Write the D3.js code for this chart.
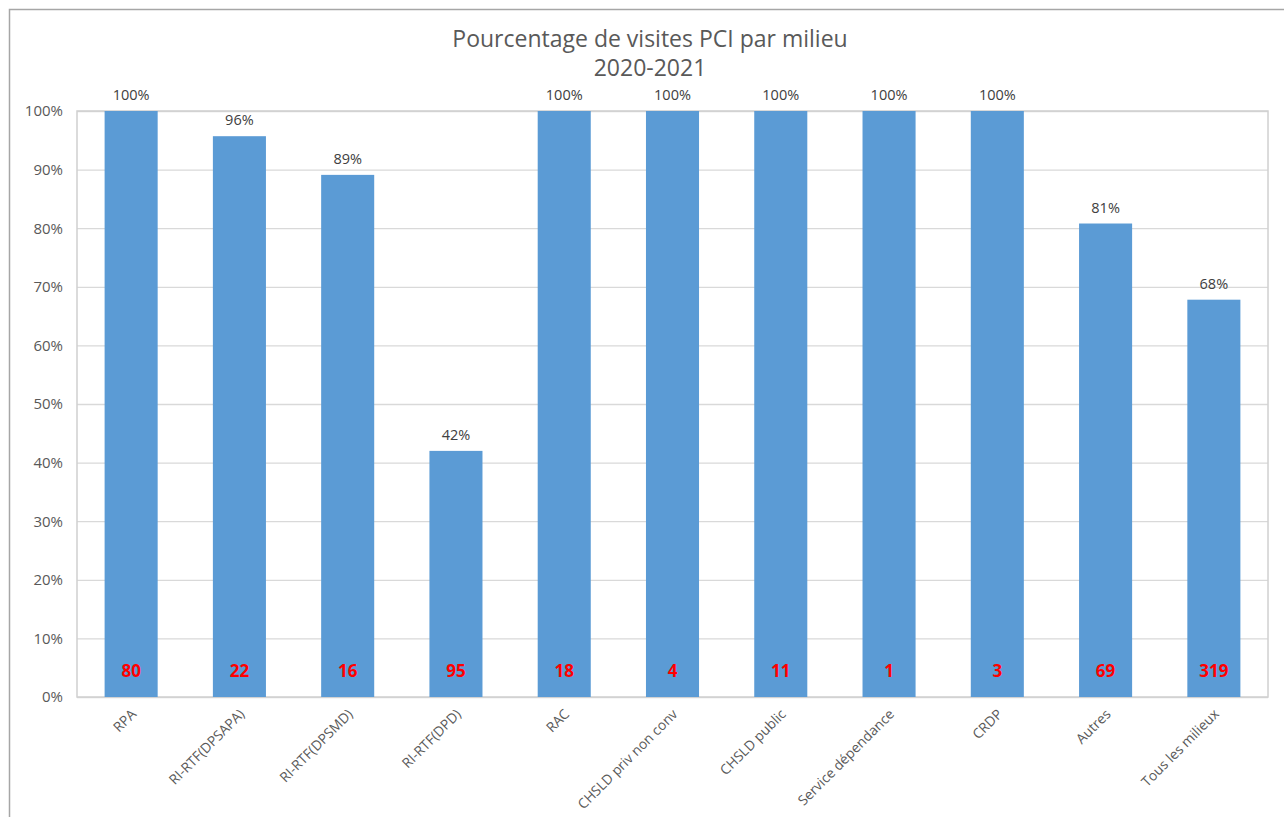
<!DOCTYPE html>
<html>
<head>
<meta charset="utf-8">
<script src="https://cdn.jsdelivr.net/npm/d3@7"></script>
<style>
  body { margin: 0; background: #fff; }
  text { font-family: "Open Sans", "Noto Sans", sans-serif; }
</style>
</head>
<body>
<div class="chart"></div>
<script>
const categories = ["RPA", "RI-RTF(DPSAPA)", "RI-RTF(DPSMD)", "RI-RTF(DPD)", "RAC",
    "CHSLD priv non conv", "CHSLD public", "Service dépendance", "CRDP", "Autres", "Tous les milieux"];
const percentages = [1.00, 0.957, 0.891, 0.42, 1.00, 1.00, 1.00, 1.00, 1.00, 0.808, 0.678];
const counts = [80, 22, 16, 95, 18, 4, 11, 1, 3, 69, 319];
const yTicks = [0, 0.1, 0.2, 0.3, 0.4, 0.5, 0.6, 0.7, 0.8, 0.9, 1.0];

function main(){
    const width = 1284;
    const height = 817;
    const margin = {top: 111, right: 16, bottom: 120, left: 77};

    const svg = d3.select('.chart')
        .append('svg')
        .attr('width', width)
        .attr('height', height);

    // outer frame of the chart
    svg.append("path")
        .attr("d", "M9.5," + height + " V9.5 H" + width)
        .attr("fill", "none")
        .attr("stroke", "#a6a6a6")
        .attr("stroke-width", 1.5);

    const x = d3.scaleBand()
        .domain(categories)
        .range([margin.left, width - margin.right])
        .paddingInner(0.51)
        .paddingOuter(0.255);

    const y = d3.scaleLinear()
        .domain([0, 1])
        .range([height - margin.bottom, margin.top]);

    // gridlines
    svg.append("g")
        .attr("transform", "translate(" + margin.left + ",0)")
        .call(d3.axisLeft(y).tickValues(yTicks).tickSize(-(width - margin.left - margin.right)).tickFormat(d3.format(".0%")))
        .call(g => g.select(".domain").remove())
        .call(g => g.selectAll(".tick line").attr("stroke", "#d9d9d9").attr("stroke-width", 1.3))
        .call(g => g.selectAll(".tick text")
            .attr("x", -14)
            .attr("fill", "#595959")
            .attr("font-size", "15px"));

    // plot area border
    svg.append("rect")
        .attr("x", margin.left)
        .attr("y", margin.top)
        .attr("width", width - margin.left - margin.right)
        .attr("height", height - margin.top - margin.bottom)
        .attr("fill", "none")
        .attr("stroke", "#d0d0d0")
        .attr("stroke-width", 1.5);

    svg.selectAll(".bar")
        .data(categories)
        .enter()
        .append("rect")
        .attr("class", "bar")
        .attr("x", d => x(d))
        .attr("width", x.bandwidth())
        .attr("y", (d, i) => y(percentages[i]))
        .attr("height", (d, i) => y(0) - y(percentages[i]))
        .attr("fill", "#5b9bd5");

    // percentage labels
    svg.selectAll(".pct")
        .data(categories)
        .enter()
        .append("text")
        .attr("class", "pct")
        .text((d, i) => d3.format(".0%")(percentages[i]))
        .attr("text-anchor", "middle")
        .attr("x", d => x(d) + x.bandwidth() / 2)
        .attr("y", (d, i) => y(percentages[i]) - 11)
        .attr("fill", "#404040")
        .attr("font-size", "14.5px");

    // count labels
    svg.selectAll(".count")
        .data(categories)
        .enter()
        .append("text")
        .attr("class", "count")
        .text((d, i) => counts[i])
        .attr("text-anchor", "middle")
        .attr("x", d => x(d) + x.bandwidth() / 2)
        .attr("y", y(0) - 20)
        .attr("fill", "#ff0000")
        .attr("font-weight", "bold")
        .attr("font-size", "17px");

    // category labels
    svg.selectAll(".cat")
        .data(categories)
        .enter()
        .append("text")
        .attr("class", "cat")
        .text(d => d)
        .attr("text-anchor", "end")
        .attr("transform", d => "translate(" + (x(d) + x.bandwidth() / 2 + 6) + "," + (y(0) + 18) + ") rotate(-45)")
        .attr("fill", "#595959")
        .attr("font-size", "13.8px");

    // title
    svg.append("text")
        .attr("x", 650)
        .attr("y", 47)
        .attr("text-anchor", "middle")
        .attr("fill", "#595959")
        .attr("font-size", "23px")
        .text("Pourcentage de visites PCI par milieu");
    svg.append("text")
        .attr("x", 650)
        .attr("y", 76)
        .attr("text-anchor", "middle")
        .attr("fill", "#595959")
        .attr("font-size", "23px")
        .text("2020-2021");
}

main();
</script>
</body>
</html>
